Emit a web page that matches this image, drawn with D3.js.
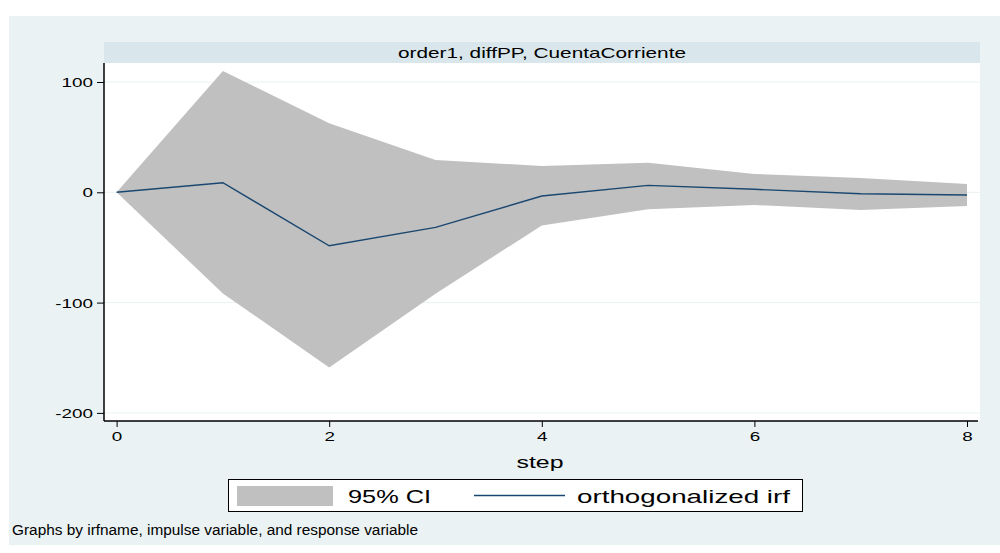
<!DOCTYPE html>
<html>
<head>
<meta charset="utf-8">
<script src="https://cdn.jsdelivr.net/npm/d3@7"></script>
<style>
  html, body { margin: 0; padding: 0; background: #ffffff; }
  svg { display: block; font-family: "Liberation Sans", Arial, Helvetica, sans-serif; }
</style>
</head>
<body>
<svg id="chart" width="1000" height="553"></svg>
<script>
// Impulse-response: order1, impulse diffPP, response CuentaCorriente
const steps = [0, 1, 2, 3, 4, 5, 6, 7, 8];
const irf   = [0, 8.7, -48.5, -31.8, -3.4, 6.3, 2.7, -1.3, -2.5];
const ciUpper = [0, 110, 62.6, 29.3, 23.9, 26.9, 16.6, 13, 7.5];
const ciLower = [0, -91.7, -158.8, -92, -30, -15.4, -11.5, -16, -12.4];
const yTicks = [-200, -100, 0, 100];
const xTicks = [0, 2, 4, 6, 8];
const panelTitle = "order1, diffPP, CuentaCorriente";
const xTitle = "step";
const legendLabels = ["95% CI", "orthogonalized irf"];
const note = "Graphs by irfname, impulse variable, and response variable";

const svg = d3.select("#chart");
const bg = "#EAF2F3";
const navy = "#1A476F";
const fontFamily = "'Liberation Sans', Arial, Helvetica, sans-serif";

// Stata-style wide lettering: stretch a text node horizontally
function widen(sel, factor) {
  sel.each(function () {
    const w = this.getComputedTextLength();
    d3.select(this).attr("textLength", w * factor).attr("lengthAdjust", "spacingAndGlyphs");
  });
}
function fitWidth(sel, width) {
  sel.attr("textLength", width).attr("lengthAdjust", "spacingAndGlyphs");
}

// outer graph region
svg.append("rect").attr("x", 9).attr("y", 16).attr("width", 991).attr("height", 529).attr("fill", bg);

const plot = { left: 104, right: 980, top: 63, bottom: 421 };

// panel caption strip
svg.append("rect").attr("x", plot.left).attr("y", 42)
  .attr("width", plot.right - plot.left).attr("height", 21).attr("fill", "#D9E6EB");
svg.append("text").attr("x", 542).attr("y", 58)
  .attr("text-anchor", "middle").attr("font-size", 15).attr("fill", "#000")
  .text(panelTitle).call(fitWidth, 288);

// plot area
svg.append("rect").attr("x", plot.left).attr("y", plot.top)
  .attr("width", plot.right - plot.left).attr("height", plot.bottom - plot.top).attr("fill", "#fff");

const x = d3.scaleLinear().domain([0, 8]).range([116.6, 967]);
const y = d3.scaleLinear().domain([0, 100]).range([192.3, 82]);

// gridlines
svg.append("g").selectAll("line").data(yTicks).join("line")
  .attr("x1", plot.left).attr("x2", plot.right)
  .attr("y1", d => y(d)).attr("y2", d => y(d))
  .attr("stroke", bg).attr("stroke-width", 1);

// confidence band
const band = d3.area()
  .x((d, i) => x(steps[i]))
  .y0((d, i) => y(ciLower[i]))
  .y1((d, i) => y(ciUpper[i]));
svg.append("path").datum(steps).attr("d", band).attr("fill", "#C0C0C0");

// irf line
const line = d3.line().x((d, i) => x(steps[i])).y((d, i) => y(irf[i]));
svg.append("path").datum(steps).attr("d", line)
  .attr("fill", "none").attr("stroke", navy).attr("stroke-width", 1.4);

// axes (ASCII hyphen for negatives)
const fmt = d => String(d);
const yAxis = d3.axisLeft(y).tickValues(yTicks).tickSize(7).tickPadding(4).tickFormat(fmt);
const gy = svg.append("g").attr("transform", `translate(${plot.left},0)`).call(yAxis);
gy.select(".domain").attr("d", `M0,${plot.top}V${plot.bottom}`).attr("stroke", "#000").attr("stroke-width", 1.5);
gy.selectAll(".tick line").attr("stroke", "#000");
gy.selectAll(".tick text").attr("font-size", 13).attr("fill", "#000")
  .attr("font-family", fontFamily).attr("dy", "0.36em").call(widen, 1.45);

const xAxis = d3.axisBottom(x).tickValues(xTicks).tickSize(6).tickPadding(4).tickFormat(fmt);
const gx = svg.append("g").attr("transform", `translate(0,${plot.bottom})`).call(xAxis);
gx.select(".domain").attr("d", `M${plot.left},0H${plot.right - 2}`).attr("stroke", "#000").attr("stroke-width", 1.5);
gx.selectAll(".tick line").attr("stroke", "#000");
gx.selectAll(".tick text").attr("font-size", 13).attr("fill", "#000")
  .attr("font-family", fontFamily).attr("y", 20).attr("dy", 0).call(widen, 1.45);

svg.append("text").attr("x", 540).attr("y", 468).attr("text-anchor", "middle")
  .attr("font-size", 17).attr("fill", "#000").text(xTitle).call(fitWidth, 47);

// legend
const lg = svg.append("g");
lg.append("rect").attr("x", 228.5).attr("y", 479.5).attr("width", 574).attr("height", 32)
  .attr("fill", "#fff").attr("stroke", "#000").attr("stroke-width", 1);
lg.append("rect").attr("x", 237).attr("y", 486).attr("width", 96).attr("height", 20).attr("fill", "#C0C0C0");
lg.append("text").attr("x", 348).attr("y", 503).attr("font-size", 19).attr("fill", "#000")
  .text(legendLabels[0]).call(fitWidth, 83);
lg.append("line").attr("x1", 474).attr("x2", 565).attr("y1", 495.5).attr("y2", 495.5)
  .attr("stroke", navy).attr("stroke-width", 1.4);
lg.append("text").attr("x", 577).attr("y", 503).attr("font-size", 19).attr("fill", "#000")
  .text(legendLabels[1]).call(fitWidth, 213);

svg.append("text").attr("x", 12).attr("y", 535).attr("font-size", 14).attr("fill", "#000")
  .text(note).call(fitWidth, 406);
</script>
</body>
</html>
